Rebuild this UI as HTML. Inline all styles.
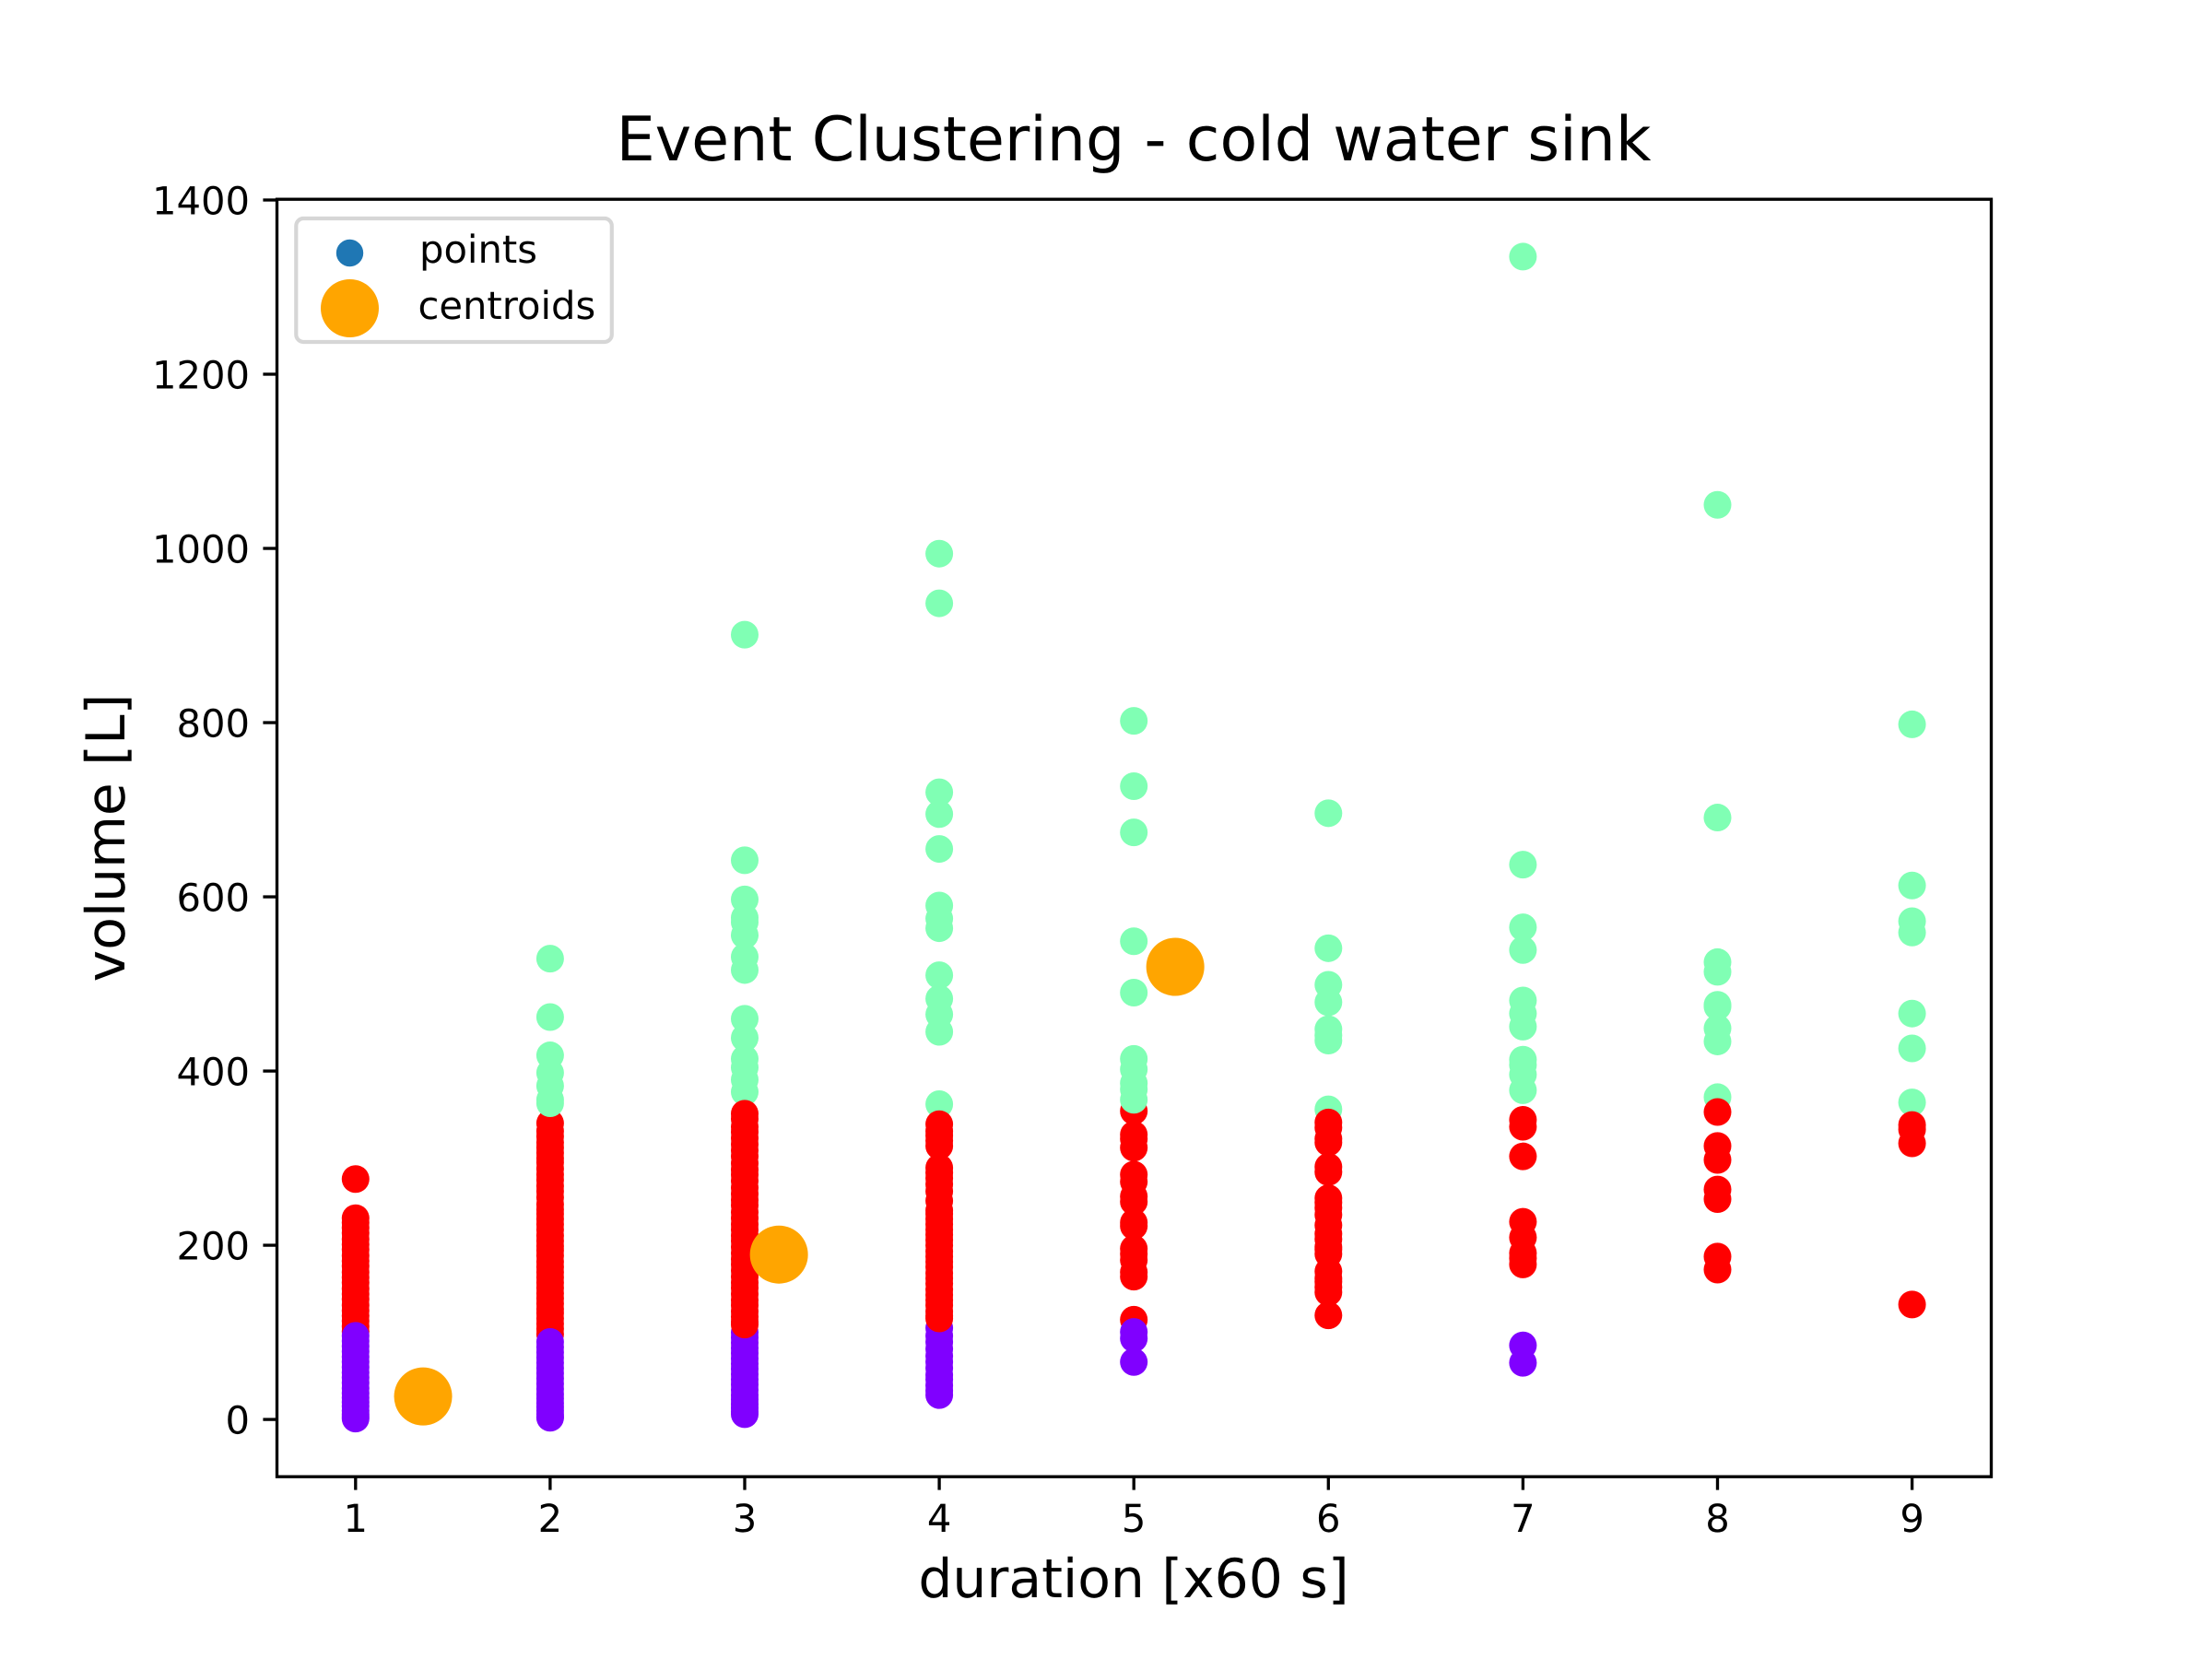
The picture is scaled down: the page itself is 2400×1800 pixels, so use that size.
<!DOCTYPE html>
<html lang="en">
<head>
<meta charset="utf-8">
<title>Event Clustering - cold water sink</title>
<style>
html,body{margin:0;padding:0;background:#fff;}
svg{display:block;}
text{font-family:"DejaVu Sans","Liberation Sans",sans-serif;fill:#000;text-rendering:geometricPrecision;}
</style>
</head>
<body>
<svg id="chart" xmlns="http://www.w3.org/2000/svg" width="2400" height="1800" viewBox="0 0 2400 1800">
  <rect x="0" y="0" width="2400" height="1800" fill="#ffffff"/>
  <g id="marks"></g>
  <g id="centroids"></g>
  <rect x="300.5" y="216.2" width="1860" height="1386" fill="none" stroke="#000" stroke-width="3.33"/>
  <g id="xticks"></g>
  <g id="yticks"></g>
  <text x="1230" y="174" font-size="66.67" text-anchor="middle">Event Clustering - cold water sink</text>
  <text x="1230" y="1733" font-size="58.33" text-anchor="middle">duration [x60 s]</text>
  <text transform="translate(135 909) rotate(-90)" font-size="58.33" text-anchor="middle">volume [L]</text>
  <g>
    <rect x="321.3" y="237" width="342.5" height="134" rx="8" ry="8" fill="#ffffff" fill-opacity="0.8" stroke="#cccccc" stroke-opacity="0.8" stroke-width="4.17"/>
    <circle cx="379.5" cy="274.5" r="14.7" fill="#1f77b4"/>
    <text x="455" y="285" font-size="41.67">points</text>
    <circle cx="379.5" cy="334.5" r="31.5" fill="#ffa500"/>
    <text x="453.5" y="346" font-size="41.67">centroids</text>
  </g>
</svg>
<script>
const durations = [1, 2, 3, 4, 5, 6, 7, 8, 9];
const yTickLabels = [0, 200, 400, 600, 800, 1000, 1200, 1400];

const purpleVolumes = [
  [96,90,84,78,72,66,60,54,48,42,36,30,25,20,15,10,6,3,1],
  [89,83,77,71,65,59,53,47,41,35,29,24,19,14,10,6,3,2],
  [100,94,88,82,76,70,64,58,52,46,40,34,28,23,18,13,9,6],
  [105,96,89,81,73,66,59,51,46,39,33,28],
  [100.5,93,66],
  [],
  [85,65],
  [],
  []
];
const redVolumes = [
  [276,231,226,220,214,207,201,195,188,182,176,169,163,157,150,144,138,131,125,119,113,107,101],
  [340,331,325,318,312,306,300,295,288,281,275,268,262,255,247,241,236,230,224,218,211,205,199,194,188,181,175,169,163,157,151,145,139,133,127,122,116,110,104,98],
  [351,345,336,330,323,316,309,302,294,287,281,274,266,259,252,246,238,231,224,218,211,205,198,191,184,178,171,164,157,151,144,137,131,124,118,112,109],
  [339,331,326,320,314,289,283,277,270,262,251,240,236,230,224,218,212,206,200,193,187,181,175,168,162,156,149,143,137,131,124,119,116],
  [354,327,322,312,281,273,256,250,226,222,196,190,183,169,164,114.5],
  [341,335,322,318,290,284,254,249,243,235,223,213,207,198,195,190,170,162,158,152,146,119.5],
  [344,336,302,227,209,191,185,178],
  [353,314,298,264,253,187,172],
  [338,333,317,132]
];
const greenVolumes = [
  [],
  [529,462,418,398,383,367,363],
  [901,642,597,576,571,556,531,516,460,438,414,404,390,376],
  [994,937,720,695,655,590,575,564,510,483,465,445,362],
  [802,727,674,549,490,414,402,386,379,367],
  [696,541,499,479,448,441,435,356],
  [1335,637,565,539,481,466,451,413,407,396,378],
  [1050,691,525,514,476,474,449,434,370],
  [798,613,572,559,466,426,364]
];
const drawOrder = [
  ['green','red','purple'],
  ['red','green','purple'],
  ['purple','green','red'],
  ['purple','green','red'],
  ['red','green','purple'],
  ['purple','green','red'],
  ['green','red','purple'],
  ['green','red','purple'],
  ['green','red','purple']
];
const centroidDurations = [1.347, 3.176, 5.213];
const centroidVolumes = [26.4, 189.3, 519.6];

const SVG_NS = 'http://www.w3.org/2000/svg';
const xMin = 0.5936, xMax = 9.4046, yMin = -65.5, yMax = 1400;
const plotLeft = 300, plotRight = 2160, plotTop = 217, plotBottom = 1602;

function xScale(v) {
  return plotLeft + (v - xMin) / (xMax - xMin) * (plotRight - plotLeft);
}
function yScale(v) {
  return plotBottom - (v - yMin) / (yMax - yMin) * (plotBottom - plotTop);
}
function seriesFor(name) {
  if (name === 'purple') return { values: purpleVolumes, color: '#8000ff' };
  if (name === 'red') return { values: redVolumes, color: '#ff0000' };
  return { values: greenVolumes, color: '#80ffb4' };
}

const marks = document.getElementById('marks');
durations.forEach(function (duration, col) {
  drawOrder[col].forEach(function (clusterName) {
    const series = seriesFor(clusterName);
    series.values[col].slice().reverse().forEach(function (volume) {
      const dot = document.createElementNS(SVG_NS, 'circle');
      dot.setAttribute('cx', xScale(duration));
      dot.setAttribute('cy', yScale(volume));
      dot.setAttribute('r', 15);
      dot.setAttribute('fill', series.color);
      
      
      marks.appendChild(dot);
    });
  });
});

const centroidGroup = document.getElementById('centroids');
centroidDurations.forEach(function (duration, i) {
  const dot = document.createElementNS(SVG_NS, 'circle');
  dot.setAttribute('cx', xScale(duration));
  dot.setAttribute('cy', yScale(centroidVolumes[i]));
  dot.setAttribute('r', 31.5);
  dot.setAttribute('fill', '#ffa500');
  
  
  centroidGroup.appendChild(dot);
});

const xTickGroup = document.getElementById('xticks');
durations.forEach(function (duration) {
  const x = xScale(duration);
  const tick = document.createElementNS(SVG_NS, 'line');
  tick.setAttribute('x1', x);
  tick.setAttribute('x2', x);
  tick.setAttribute('y1', plotBottom);
  tick.setAttribute('y2', plotBottom + 14.6);
  tick.setAttribute('stroke', '#000');
  tick.setAttribute('stroke-width', 3.33);
  
  
  xTickGroup.appendChild(tick);
  const label = document.createElementNS(SVG_NS, 'text');
  label.setAttribute('x', x);
  label.setAttribute('y', 1662);
  label.setAttribute('font-size', 41.67);
  label.setAttribute('text-anchor', 'middle');
  
  
  label.textContent = String(duration);
  xTickGroup.appendChild(label);
});

const yTickGroup = document.getElementById('yticks');
yTickLabels.forEach(function (value) {
  const y = yScale(value);
  const tick = document.createElementNS(SVG_NS, 'line');
  tick.setAttribute('x1', plotLeft - 14.6);
  tick.setAttribute('x2', plotLeft);
  tick.setAttribute('y1', y);
  tick.setAttribute('y2', y);
  tick.setAttribute('stroke', '#000');
  tick.setAttribute('stroke-width', 3.33);
  
  
  yTickGroup.appendChild(tick);
  const label = document.createElementNS(SVG_NS, 'text');
  label.setAttribute('x', 271);
  label.setAttribute('y', y + 15.3);
  label.setAttribute('font-size', 41.67);
  label.setAttribute('text-anchor', 'end');
  
  
  label.textContent = String(value);
  yTickGroup.appendChild(label);
});
</script>
</body>
</html>
